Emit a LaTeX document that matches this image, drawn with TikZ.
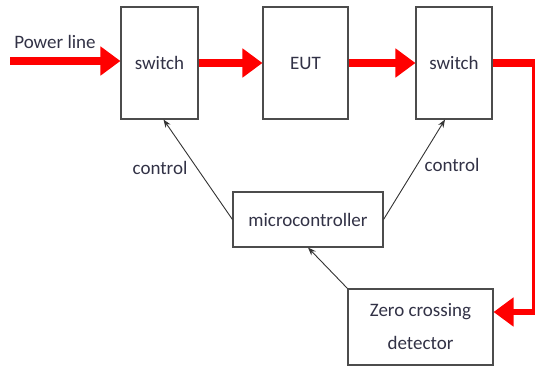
\documentclass[tikz,border=0pt]{standalone}
\usepackage{fontspec}
\setmainfont{Carlito}
\usepackage{tikz}
\usetikzlibrary{arrows.meta,positioning,calc}
\definecolor{txt}{RGB}{50,50,70}
\tikzset{
  bx/.style={rectangle,draw=black!70,line width=1.1pt,fill=white,inner sep=2pt,font=\fontsize{19}{33}\selectfont,text=txt,align=center},
  pe/.style={-{Triangle[length=20pt,width=28pt]},red,line width=8pt},
  ce/.style={-{Stealth[length=8pt,width=6pt]},black!80,line width=0.9pt},
  lbl/.style={font=\fontsize{19}{22}\selectfont,text=txt}
}
\begin{document}
\begin{tikzpicture}[x=1pt,y=-1pt]
\useasboundingbox (0,0) rectangle (535,370);
\node[bx,minimum width=77pt,minimum height=112pt] (sw1) at (159.5,63) {switch};
\node[bx,minimum width=85pt,minimum height=112pt] (eut) at (305.5,63) {EUT};
\node[bx,minimum width=76pt,minimum height=112pt] (sw2) at (454,63) {switch};
\node[bx,minimum width=150pt,minimum height=55pt] (mc) at (308,219.5) {microcontroller};
\node[bx,minimum width=145pt,minimum height=76pt] (zcd) at (420.5,327) {Zero crossing\\detector};
\coordinate (pl) at (10,61);
\coordinate (c1) at (533,63);
\coordinate (c2) at (533,312);
\node[lbl] (plab) at (55,42) {Power line};
\node[lbl] (cl) at (160,168) {control};
\node[lbl] (cr) at (452,165) {control};
% power path
\draw[pe] (pl) -- (pl -| sw1.west);
\draw[pe] (sw1) -- (eut);
\draw[pe] (eut) -- (sw2);
\draw[red,line width=8pt] (sw2.east) -- ([xshift=4pt]c1);
\draw[red,line width=3pt] (c1) -- (c2);
\draw[pe,line width=6pt] ([xshift=1.5pt]c2) -- (c2 -| zcd.east);
% control signals
\draw[ce] (mc.west) -- ([xshift=4pt]sw1.south);
\draw[ce] (mc.east) -- ([xshift=-9pt]sw2.south);
\draw[ce] (zcd.north west) -- (mc.south);
\end{tikzpicture}
\end{document}
